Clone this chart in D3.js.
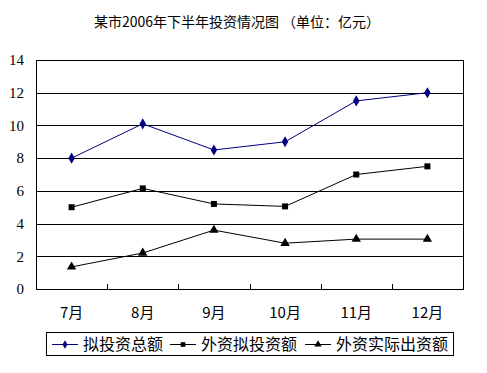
<!DOCTYPE html>
<html>
  <head>
    <meta charset="utf-8">
    <title>某市2006年下半年投资情况图</title>
    <script src="https://cdn.jsdelivr.net/npm/d3@7"></script>
    <style>
      body { margin: 0; background: #fff; }
      svg { display: block; font-family: "Noto Sans CJK SC", sans-serif; }
    </style>
  </head>
  <body>
    <svg id="chart" width="487" height="373"></svg>
    <script>
      // data
      months = ["7月", "8月", "9月", "10月", "11月", "12月"];
      totalPlanned = [8, 10.1, 8.5, 9, 11.5, 12];
      foreignPlanned = [5, 6.15, 5.2, 5.05, 7, 7.5];
      foreignActual = [1.35, 2.2, 3.6, 2.8, 3.05, 3.05];
      seriesNames = ["拟投资总额", "外资拟投资额", "外资实际出资额"];
      yTicks = [0, 2, 4, 6, 8, 10, 12, 14];

      series = [
        { name: seriesNames[0], values: totalPlanned, colour: "#000080", shape: d3.symbolDiamond, size: 36 },
        { name: seriesNames[1], values: foreignPlanned, colour: "#000000", shape: d3.symbolSquare, size: 36 },
        { name: seriesNames[2], values: foreignActual, colour: "#000000", shape: d3.symbolTriangle, size: 38 }
      ];

      margin = { top: 60, right: 24, bottom: 84, left: 36 };
      chart = d3.select("#chart");
      width = 487;
      height = 373;

      x = d3.scaleBand()
        .domain(months)
        .range([margin.left, width - margin.right]);
      y = d3.scaleLinear()
        .domain([0, 14])
        .range([height - margin.bottom, margin.top]);

      // gridlines
      chart.append("g")
        .selectAll("line")
          .data(yTicks)
        .enter().append("line")
          .attr("x1", margin.left)
          .attr("x2", width - margin.right)
          .attr("y1", function(d) { return Math.round(y(d)) + 0.5; })
          .attr("y2", function(d) { return Math.round(y(d)) + 0.5; })
          .attr("stroke", "#000");

      // plot border
      chart.append("rect")
        .attr("x", margin.left + 0.5)
        .attr("y", Math.round(y(14)) + 0.5)
        .attr("width", width - margin.left - margin.right)
        .attr("height", Math.round(y(0)) - Math.round(y(14)))
        .attr("fill", "none")
        .attr("stroke", "#000");

      // y axis labels
      yAxis = d3.axisLeft(y)
        .tickValues(yTicks)
        .tickSize(0)
        .tickPadding(12);
      chart.append("g")
        .attr("transform", "translate(" + margin.left + ",0)")
        .call(yAxis)
        .call(function(g) { g.select(".domain").remove(); })
        .selectAll("text")
          .attr("font-size", 15)
          .attr("font-family", "Liberation Serif, serif")
          .attr("fill", "#000");

      // x axis ticks at band edges, pointing into the plot
      chart.append("g")
        .selectAll("line")
          .data(months.slice(1))
        .enter().append("line")
          .attr("x1", function(d) { return Math.round(x(d)) + 0.5; })
          .attr("x2", function(d) { return Math.round(x(d)) + 0.5; })
          .attr("y1", Math.round(y(0)))
          .attr("y2", Math.round(y(0)) - 5)
          .attr("stroke", "#000");

      chart.append("g")
        .selectAll("text")
          .data(months)
        .enter().append("text")
          .attr("x", function(d) { return x(d) + x.bandwidth() / 2; })
          .attr("y", y(0) + 29)
          .attr("text-anchor", "middle")
          .attr("font-size", 15)
          .text(function(d) { return d; });

      // lines and markers
      line = d3.line()
        .x(function(d, i) { return x(months[i]) + x.bandwidth() / 2; })
        .y(function(d) { return y(d); });

      series.forEach(function(s) {
        chart.append("path")
          .attr("d", line(s.values))
          .attr("fill", "none")
          .attr("stroke", s.colour)
          .attr("stroke-width", 1);
        chart.append("g")
          .selectAll("path")
            .data(s.values)
          .enter().append("path")
            .attr("transform", function(d, i) {
              return "translate(" + (x(months[i]) + x.bandwidth() / 2) + "," + y(d) + ")";
            })
            .attr("d", d3.symbol().type(s.shape).size(s.size))
            .attr("fill", s.colour);
      });

      // title
      chart.append("text")
        .attr("x", 237)
        .attr("y", 27)
        .attr("text-anchor", "middle")
        .attr("font-size", 14)
        .text("某市2006年下半年投资情况图 （单位：亿元）");

      // legend
      legend = chart.append("g");
      legend.append("rect")
        .attr("x", 46.5)
        .attr("y", 332.5)
        .attr("width", 407)
        .attr("height", 23)
        .attr("fill", "#fff")
        .attr("stroke", "#000");
      legendX = [52, 170, 305];
      series.forEach(function(s, i) {
        var gx = legendX[i];
        legend.append("line")
          .attr("x1", gx)
          .attr("x2", gx + 26)
          .attr("y1", 344.5)
          .attr("y2", 344.5)
          .attr("stroke", s.colour);
        legend.append("path")
          .attr("transform", "translate(" + (gx + 13) + ",344.5)")
          .attr("d", d3.symbol().type(s.shape).size(s.size * 0.6))
          .attr("fill", s.colour);
        legend.append("text")
          .attr("x", gx + 31)
          .attr("y", 350)
          .attr("font-size", 16)
          .text(s.name);
      });
    </script>
  </body>
</html>
